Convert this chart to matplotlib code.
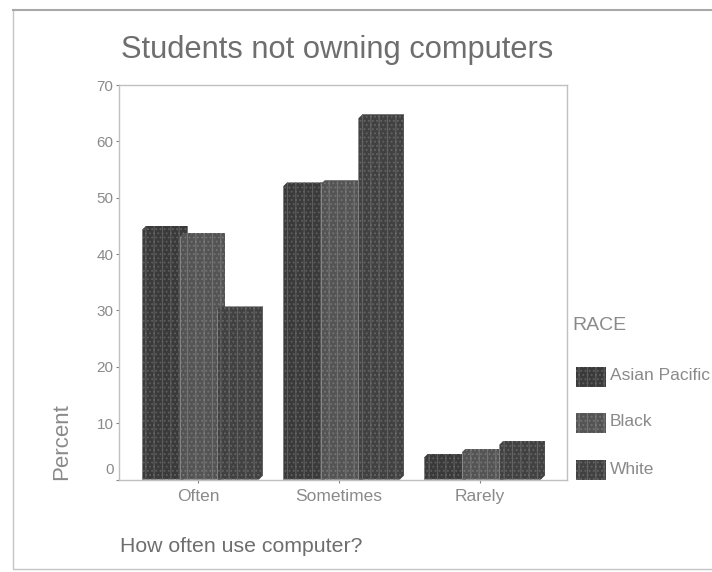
"""Grouped bar chart of computer use among students without a computer."""

import matplotlib

matplotlib.use("Agg")
import matplotlib.pyplot as plt
import numpy as np
from matplotlib.patches import Polygon, Rectangle
from matplotlib.transforms import ScaledTranslation

categories = ["Often", "Sometimes", "Rarely"]
races = ["Asian Pacific", "Black", "White"]
asian_pacific = [45.0, 52.7, 4.6]
black = [43.8, 53.1, 5.5]
white = [30.7, 64.8, 6.9]
y_ticks = [0, 10, 20, 30, 40, 50, 60, 70]

TEXT = "#8a8a8a"
AXIS = "#c0c0c0"
FILLS = ["#3a3a3a", "#545454", "#414141"]
GRAIN = ["#5e5e5e", "#747474", "#646464"]

plt.rcParams["font.family"] = ["Liberation Sans", "DejaVu Sans"]
plt.rcParams["hatch.linewidth"] = 0.8

W, H = 712, 572
fig = plt.figure(figsize=(W / 100, H / 100), dpi=100)
ax = fig.add_axes([119 / W, 1 - 479.5 / H, 448 / W, 394.5 / H])
ax.set_xlim(-0.56, 2.617)
ax.set_ylim(0, 70)

px_x = 1 / 141  # data units per pixel along x
px_y = 70 / 394.5  # and along y
bar_w = 45.5 * px_x
step = 37.7 * px_x
cut = 4

for i, values in enumerate([asian_pacific, black, white]):
    xs = np.arange(len(categories)) + (i - 1) * step + 4.5 * px_x
    bars = ax.bar(
        xs, values, bar_w, color=FILLS[i], edgecolor=GRAIN[i],
        linewidth=0, hatch="||....", zorder=2 + i,
    )
    for b in bars:
        x0, y0, w, h = b.get_x(), b.get_y(), b.get_width(), b.get_height()
        dx, dy = cut * px_x, cut * px_y
        # Bevelled top-left and bottom-right corners
        outline = Polygon(
            [(x0, y0), (x0 + w - dx, y0), (x0 + w, y0 + dy), (x0 + w, y0 + h),
             (x0 + dx, y0 + h), (x0, y0 + h - dy)],
            transform=ax.transData,
        )
        b.set_clip_path(outline)
        ax.plot([x0, x0], [0, h - dy], color="#8c8c8c", lw=0.6, zorder=2 + i)

for side in ax.spines.values():
    side.set_color(AXIS)
    side.set_linewidth(1.0)

ax.set_yticks(y_ticks)
ax.set_xticks(range(len(categories)), categories)
ax.tick_params(axis="both", length=2, width=0.8, color="#808080", labelcolor=TEXT)
ax.tick_params(axis="x", pad=5, labelsize=12.5)
ax.tick_params(axis="y", pad=2, labelsize=11)
# The zero label sits above its tick
zero = ax.get_yticklabels()[0]
zero.set_transform(zero.get_transform() + ScaledTranslation(0, 11 / 100, fig.dpi_scale_trans))

fig.text(121 / W, 1 - 50 / H, "Students not owning computers", fontsize=22.2,
         color="#6e6e6e", va="center", ha="left")
fig.text(62 / W, 1 - 480 / H, "Percent", rotation=90, fontsize=16,
         color=TEXT, va="bottom", ha="center")
fig.text(120 / W, 1 - 546 / H, "How often use computer?", fontsize=15.3,
         color="#6e6e6e", va="center", ha="left")

# Legend
fig.text(572 / W, 1 - 326 / H, "RACE", fontsize=14, color=TEXT, va="center", ha="left")
for i, (race, top) in enumerate(zip(races, [367, 413, 460])):
    fig.add_artist(Rectangle(
        (576 / W, 1 - (top + 20) / H), 30 / W, 20 / H, transform=fig.transFigure,
        facecolor=FILLS[i], edgecolor=GRAIN[i], linewidth=0, hatch="||....",
    ))
    fig.text(610 / W, 1 - (top + 9) / H, race, fontsize=12.5, color=TEXT,
             va="center", ha="left")

# Page frame, open on the right
frame = dict(transform=fig.transFigure, color="#c4c4c4", lw=1.0)
fig.add_artist(plt.Line2D([13 / W, 13 / W, 712 / W], [1 - 10 / H, 1 - 569 / H, 1 - 569 / H], **frame))
fig.add_artist(plt.Line2D([13 / W, 712 / W], [1 - 10 / H, 1 - 10 / H],
                          transform=fig.transFigure, color="#a8a8a8", lw=1.5))

fig.savefig("out.png", dpi=100)
